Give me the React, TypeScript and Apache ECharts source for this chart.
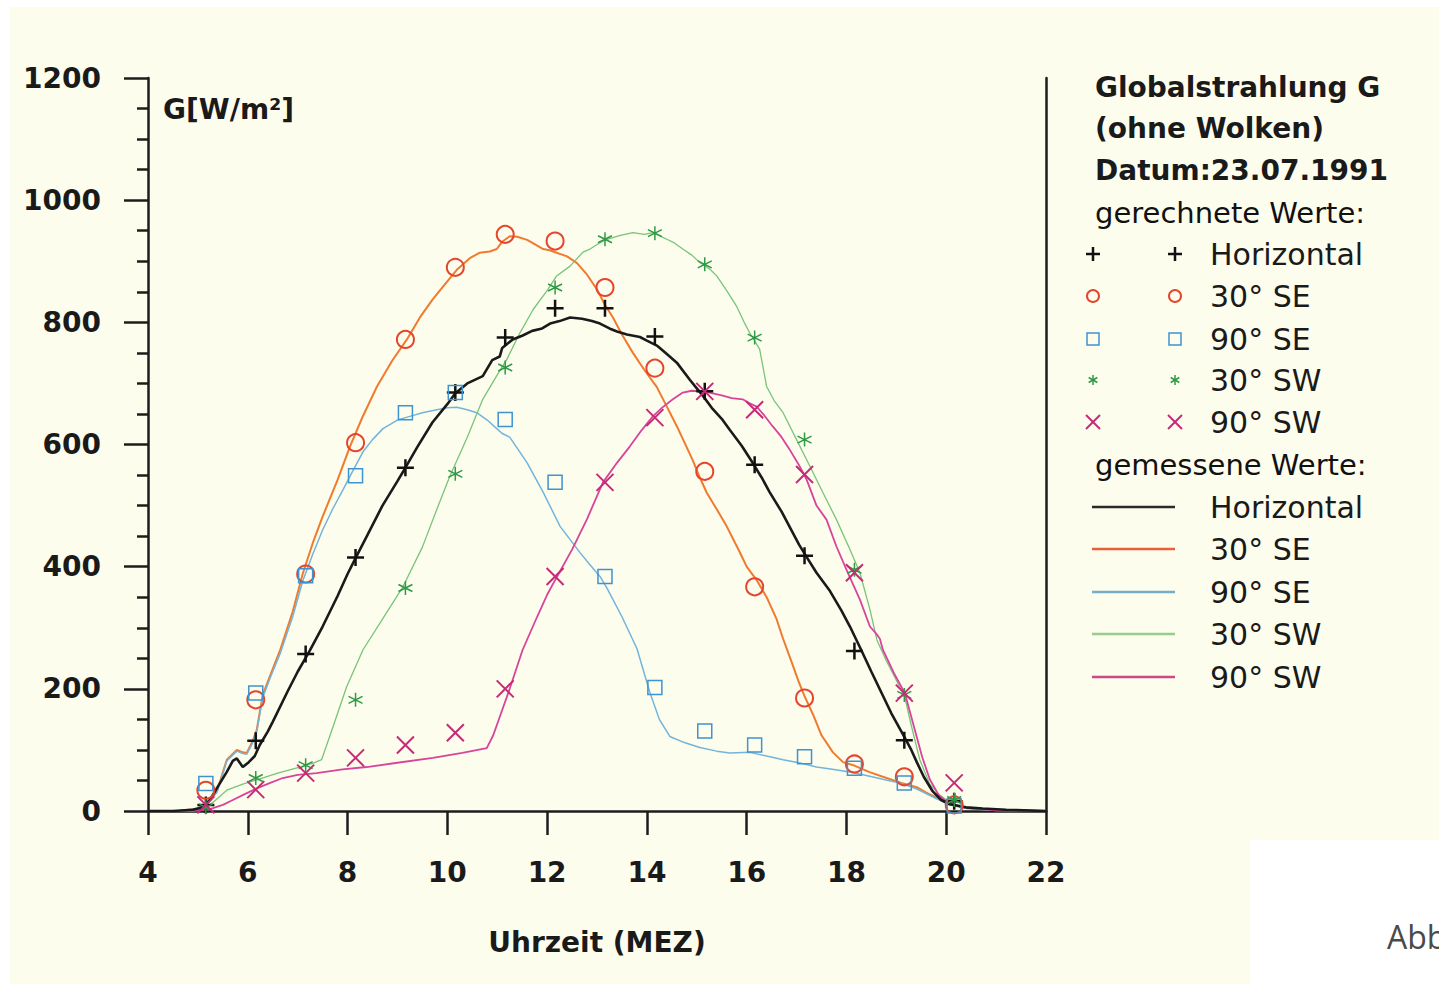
import React, { useEffect, useRef } from "react";
import * as echarts from "echarts";

// ---------- data ----------
const xTicks = [4, 22, 2]; // min, max, interval
const yTicks = [0, 1200, 200];

const calcTimes = [5.16, 6.16, 7.16, 8.16, 9.16, 10.16, 11.16, 12.16, 13.16, 14.16, 15.16, 16.16, 17.16, 18.16, 19.16, 20.16];
const calcHorizontal = [10, 115, 257, 415, 562, 685, 775, 823, 823, 777, 687, 567, 418, 262, 116, 16];
const calcSE30 = [34, 182, 388, 603, 772, 890, 944, 933, 857, 725, 556, 367, 185, 77, 56, 10];
const calcSE90 = [45, 193, 385, 549, 652, 685, 641, 538, 384, 202, 131, 108, 89, 70, 46, 8];
const calcSW30 = [6, 54, 75, 182, 365, 552, 726, 857, 936, 946, 895, 775, 608, 395, 190, 18];
const calcSW90 = [10, 35, 62, 87, 108, 128, 200, 384, 538, 644, 687, 657, 551, 390, 193, 46];

const measHorizontal: number[][] = [
  [4.0, 0], [4.5, 0], [4.9, 2], [5.1, 6], [5.24, 18], [5.4, 40], [5.58, 64], [5.7, 82], [5.78, 86], [5.9, 72],
  [6.02, 80], [6.14, 90], [6.24, 108], [6.4, 130], [6.5, 146], [6.8, 196], [7.0, 228], [7.24, 262], [7.5, 302],
  [7.8, 352], [8.0, 388], [8.16, 414], [8.4, 452], [8.7, 500], [9.0, 540], [9.16, 562], [9.4, 596], [9.7, 636],
  [10.0, 666], [10.16, 684], [10.4, 700], [10.71, 712], [10.9, 738], [11.05, 744], [11.1, 758], [11.31, 772],
  [11.5, 778], [11.7, 786], [11.9, 790], [12.06, 798], [12.25, 802], [12.46, 808], [12.7, 806], [12.9, 802],
  [13.06, 798], [13.25, 790], [13.4, 785], [13.6, 780], [13.86, 776], [14.0, 770], [14.2, 762], [14.4, 748],
  [14.6, 734], [14.86, 706], [15.0, 692], [15.12, 680], [15.3, 660], [15.5, 642], [15.66, 624], [15.9, 598],
  [16.12, 570], [16.3, 546], [16.46, 522], [16.7, 490], [16.92, 456], [17.05, 436], [17.2, 416], [17.4, 390],
  [17.67, 360], [17.9, 328], [18.07, 302], [18.27, 268], [18.5, 228], [18.7, 194], [18.9, 160], [19.13, 126],
  [19.3, 100], [19.41, 80], [19.55, 56], [19.73, 32], [19.9, 18], [20.07, 11], [20.4, 6], [20.73, 4], [21.2, 2], [22, 0],
];
const measSE30: number[][] = [
  [4.0, 0], [4.6, 0], [5.0, 4], [5.2, 14], [5.38, 32], [5.58, 84], [5.78, 100], [5.9, 96], [5.98, 95], [6.1, 115],
  [6.18, 133], [6.3, 190], [6.45, 222], [6.65, 264], [6.9, 326], [7.1, 388], [7.3, 438], [7.5, 482], [7.8, 542],
  [8.05, 597], [8.3, 645], [8.59, 695], [8.9, 738], [9.19, 772], [9.45, 808], [9.71, 838], [9.95, 862], [10.19, 886],
  [10.45, 905], [10.65, 914], [10.85, 916], [10.99, 920], [11.1, 932], [11.25, 941], [11.4, 940], [11.6, 935],
  [11.75, 928], [11.92, 920], [12.05, 918], [12.19, 914], [12.4, 908], [12.6, 897], [12.8, 878], [13.0, 854],
  [13.15, 830], [13.32, 808], [13.5, 780], [13.72, 750], [13.95, 722], [14.2, 694], [14.4, 662], [14.6, 630],
  [14.75, 604], [14.92, 574], [15.05, 548], [15.2, 521], [15.4, 494], [15.6, 466], [15.86, 424], [16.0, 400],
  [16.2, 378], [16.4, 350], [16.6, 314], [16.73, 282], [16.9, 244], [17.05, 210], [17.16, 188], [17.33, 158],
  [17.5, 124], [17.73, 96], [17.93, 80], [18.17, 74], [18.45, 64], [18.73, 56], [19.1, 46], [19.41, 39],
  [19.6, 30], [19.81, 22], [20.07, 12], [20.4, 5], [21.0, 2], [22, 0],
];
const measSE90: number[][] = [
  [4.0, 0], [4.6, 0], [5.0, 4], [5.2, 14], [5.38, 30], [5.58, 82], [5.78, 98], [5.9, 94], [5.98, 93], [6.1, 112],
  [6.18, 130], [6.3, 186], [6.45, 218], [6.65, 258], [6.9, 318], [7.1, 376], [7.3, 420], [7.5, 460], [7.7, 494],
  [7.91, 526], [8.1, 556], [8.31, 588], [8.5, 608], [8.71, 626], [9.0, 640], [9.25, 646], [9.5, 652], [9.79, 657],
  [10.0, 660], [10.19, 661], [10.4, 657], [10.59, 652], [10.8, 640], [10.99, 626], [11.1, 618], [11.25, 612],
  [11.4, 594], [11.6, 570], [11.92, 522], [12.26, 466], [12.66, 423], [12.85, 404], [13.06, 384], [13.2, 365],
  [13.5, 318], [13.8, 266], [14.06, 194], [14.25, 150], [14.46, 122], [14.75, 112], [15.06, 104], [15.4, 98],
  [15.66, 95], [16.06, 96], [16.4, 90], [16.73, 84], [17.1, 78], [17.4, 72], [17.75, 68], [18.07, 64], [18.4, 58],
  [18.73, 52], [19.07, 46], [19.41, 36], [19.81, 20], [20.07, 10], [20.4, 4], [21.0, 1], [22, 0],
];
const measSW30: number[][] = [
  [4.0, 0], [4.8, 0], [5.1, 4], [5.3, 14], [5.58, 34], [5.9, 44], [6.18, 51], [6.6, 62], [7.04, 72], [7.3, 78],
  [7.48, 84], [7.7, 136], [7.98, 203], [8.31, 264], [8.7, 314], [9.11, 367], [9.5, 432], [9.8, 496], [10.05, 548],
  [10.4, 612], [10.71, 674], [11.0, 714], [11.19, 739], [11.45, 782], [11.72, 821], [12.0, 852], [12.19, 876],
  [12.46, 892], [12.72, 915], [12.86, 920], [13.05, 930], [13.2, 936], [13.45, 942], [13.72, 947], [13.95, 944],
  [14.12, 947], [14.25, 942], [14.4, 936], [14.55, 930], [14.72, 920], [14.9, 910], [15.06, 898], [15.25, 888],
  [15.4, 876], [15.6, 852], [15.8, 826], [15.95, 800], [16.06, 783], [16.26, 756], [16.4, 695], [16.55, 672],
  [16.73, 652], [17.0, 608], [17.27, 564], [17.53, 521], [17.8, 477], [18.07, 428], [18.27, 390], [18.47, 330],
  [18.61, 280], [18.8, 246], [19.0, 214], [19.17, 186], [19.3, 140], [19.47, 84], [19.67, 44], [19.87, 26],
  [20.1, 12], [20.5, 4], [21.2, 1], [22, 0],
];
const measSW90: number[][] = [
  [4.0, 0], [4.9, 0], [5.24, 3], [5.5, 10], [5.7, 18], [5.95, 28], [6.18, 37], [6.45, 46], [6.7, 54], [7.0, 59],
  [7.38, 62], [7.9, 68], [8.38, 72], [9.0, 79], [9.71, 87], [10.3, 95], [10.79, 103], [10.92, 124], [11.05, 154],
  [11.25, 200], [11.51, 264], [11.8, 318], [12.0, 354], [12.2, 384], [12.5, 428], [12.8, 478], [13.12, 538],
  [13.4, 570], [13.66, 597], [13.9, 624], [14.12, 646], [14.3, 660], [14.52, 674], [14.72, 685], [14.9, 688],
  [15.12, 687], [15.3, 684], [15.52, 680], [15.7, 676], [15.92, 674], [16.05, 668], [16.2, 662], [16.35, 648],
  [16.52, 630], [16.7, 612], [16.86, 592], [17.05, 566], [17.2, 543], [17.4, 500], [17.6, 477], [17.8, 433],
  [18.0, 395], [18.27, 346], [18.47, 302], [18.6, 290], [18.67, 282], [18.73, 264], [18.95, 226], [19.17, 193],
  [19.37, 133], [19.52, 88], [19.67, 52], [19.85, 26], [19.97, 18], [20.3, 6], [21.0, 1], [22, 0],
];

const seriesNames = ["Horizontal", "30° SE", "90° SE", "30° SW", "90° SW"];
const headerLines = ["Globalstrahlung G", "(ohne Wolken)", "Datum:23.07.1991"];
const calcHeading = "gerechnete Werte:";
const measHeading = "gemessene Werte:";
const yAxisTitle = "G[W/m²]";
const xAxisTitle = "Uhrzeit (MEZ)";

// ---------- styles ----------
const FONT = "DejaVu Sans";
const AXIS = "#1c1c1c";
const lineColors = ["#1a1a1a", "#f07a2e", "#72b4dc", "#78c478", "#d8449a"];
const lineWidths = [2.6, 2, 1.5, 1.3, 1.8];
const markColors = ["#111111", "#e4452c", "#3f93d0", "#2f9a45", "#c72a76"];
const legendLineColors = ["#2a2a2a", "#e8603a", "#74aec8", "#98cc8c", "#c84a86"];

const SYM_PLUS = "path://M0,5L10,5M5,0L5,10";
const SYM_X = "path://M0,0L10,10M0,10L10,0";
const SYM_STAR = "path://M5,0L5,10M0.67,2.5L9.33,7.5M0.67,7.5L9.33,2.5";
const symbols = [SYM_PLUS, "circle", "rect", SYM_STAR, SYM_X];
const symSizes = [17, 17, 14, 14, 17];
const symWidths = [2.5, 2, 1.5, 1.5, 2];

function legendMarker(kind: number, cx: number, cy: number, color: string): any {
  const st = { stroke: color, lineWidth: symWidths[kind], fill: "none" };
  if (kind === 0) {
    return {
      type: "group",
      children: [
        { type: "line", shape: { x1: cx - 7, y1: cy, x2: cx + 7, y2: cy }, style: st },
        { type: "line", shape: { x1: cx, y1: cy - 7, x2: cx, y2: cy + 7 }, style: st },
      ],
    };
  }
  if (kind === 1) return { type: "circle", shape: { cx, cy, r: 6 }, style: st };
  if (kind === 2) return { type: "rect", shape: { x: cx - 6, y: cy - 6, width: 12, height: 12 }, style: st };
  if (kind === 3) {
    return {
      type: "group",
      children: [
        { type: "line", shape: { x1: cx, y1: cy - 5, x2: cx, y2: cy + 5 }, style: st },
        { type: "line", shape: { x1: cx - 4.3, y1: cy - 2.5, x2: cx + 4.3, y2: cy + 2.5 }, style: st },
        { type: "line", shape: { x1: cx - 4.3, y1: cy + 2.5, x2: cx + 4.3, y2: cy - 2.5 }, style: st },
      ],
    };
  }
  return {
    type: "group",
    children: [
      { type: "line", shape: { x1: cx - 7, y1: cy - 7, x2: cx + 7, y2: cy + 7 }, style: st },
      { type: "line", shape: { x1: cx - 7, y1: cy + 7, x2: cx + 7, y2: cy - 7 }, style: st },
    ],
  };
}

function txt(text: string, x: number, y: number, size: number, weight: any, extra: any = {}): any {
  return {
    type: "text",
    x,
    y,
    style: {
      text,
      fill: "#1a1a1a",
      font: `${weight} ${size}px "${FONT}"`,
      textVerticalAlign: "middle",
      textAlign: "left",
      ...extra,
    },
  };
}

export default function App() {
  const ref = useRef<HTMLDivElement>(null);

  useEffect(() => {
    if (!ref.current) return;
    const chart = echarts.init(ref.current, null, { renderer: "svg" });

    const calcSets = [calcHorizontal, calcSE30, calcSE90, calcSW30, calcSW90];
    const measSets = [measHorizontal, measSE30, measSE90, measSW30, measSW90];

    const lineSeries = measSets.map((d, i) => ({
      name: seriesNames[i] + " (gemessen)",
      type: "line",
      data: d,
      showSymbol: false,
      symbol: "none",
      lineStyle: { color: lineColors[i], width: lineWidths[i] },
      z: 2 + (i === 0 ? 1 : 0),
      silent: true,
    }));
    const scatterSeries = calcSets.map((vals, i) => ({
      name: seriesNames[i] + " (gerechnet)",
      type: "scatter",
      data: calcTimes.map((t, k) => [t, vals[k]]),
      symbol: symbols[i],
      symbolSize: symSizes[i],
      itemStyle: {
        color: "rgba(0,0,0,0)",
        borderColor: markColors[i],
        borderWidth: symWidths[i],
        opacity: 1,
      },
      z: 5,
      silent: true,
    }));

    const legendX = 1095;
    const col1 = 1093;
    const col2 = 1175;
    const textX = 1210;
    const headerY = [87, 128, 170];
    const calcHeadY = 213;
    const calcY = [254, 296, 339, 380, 422];
    const measHeadY = 465;
    const measY = [507, 549, 592, 634, 677];

    const graphics: any[] = [
      { type: "rect", z: -10, shape: { x: 10, y: 7, width: 1429, height: 977 }, style: { fill: "#fdfdee" } },
      { type: "rect", z: -9, shape: { x: 1250, y: 840, width: 189, height: 144 }, style: { fill: "#ffffff" } },
      txt(yAxisTitle, 163, 109, 28, "bold"),
      txt("Abb", 1387, 936, 32, "normal", { fill: "#4a4a4a", font: `normal 32px "Open Sans"` }),
    ];
    headerLines.forEach((s, i) => graphics.push(txt(s, legendX, headerY[i], 28, "bold")));
    graphics.push(txt(calcHeading, legendX, calcHeadY, 29, "normal", { fill: "#111" }));
    graphics.push(txt(measHeading, legendX, measHeadY, 29, "normal", { fill: "#111" }));
    seriesNames.forEach((s, i) => {
      graphics.push(legendMarker(i, col1, calcY[i], markColors[i]));
      graphics.push(legendMarker(i, col2, calcY[i], markColors[i]));
      graphics.push(txt(s, textX, calcY[i], 30, "normal"));
      graphics.push({
        type: "line",
        shape: { x1: 1092, y1: measY[i], x2: 1175, y2: measY[i] },
        style: { stroke: legendLineColors[i], lineWidth: 2.5 },
      });
      graphics.push(txt(s, textX, measY[i], 30, "normal"));
    });

    const option: any = {
      animation: false,
      backgroundColor: "#ffffff",
      textStyle: { fontFamily: FONT },
      grid: { left: 148, right: 393, top: 78, bottom: 173, containLabel: false },
      xAxis: {
        type: "value",
        min: xTicks[0],
        max: xTicks[1],
        interval: xTicks[2],
        name: xAxisTitle,
        nameLocation: "middle",
        nameGap: 131,
        nameTextStyle: { fontSize: 28, fontWeight: "bold", color: "#1a1a1a", fontFamily: FONT, verticalAlign: "middle" },
        axisLine: { show: true, onZero: false, lineStyle: { color: AXIS, width: 2.5 } },
        axisTick: { show: true, inside: false, length: 24, lineStyle: { color: AXIS, width: 2.5 } },
        axisLabel: { fontSize: 28, fontWeight: "bold", color: "#1a1a1a", fontFamily: FONT, margin: 47, formatter: (v: number) => String(v) },
        splitLine: { show: false },
      },
      yAxis: [
        {
          type: "value",
          min: yTicks[0],
          max: yTicks[1],
          interval: yTicks[2],
          axisLine: { show: true, onZero: false, lineStyle: { color: AXIS, width: 2.5 } },
          axisTick: { show: true, inside: false, length: 24, lineStyle: { color: AXIS, width: 2.5 } },
          minorTick: { show: true, splitNumber: 4, length: 11, lineStyle: { color: AXIS, width: 2.5 } },
          axisLabel: { fontSize: 28, fontWeight: "bold", color: "#1a1a1a", fontFamily: FONT, margin: 47, formatter: (v: number) => String(v) },
          splitLine: { show: false },
          minorSplitLine: { show: false },
        },
        {
          type: "value",
          position: "right",
          min: yTicks[0],
          max: yTicks[1],
          interval: yTicks[2],
          axisLine: { show: true, onZero: false, lineStyle: { color: AXIS, width: 2.5 } },
          axisTick: { show: false },
          axisLabel: { show: false },
          splitLine: { show: false },
        },
      ],
      graphic: graphics,
      series: [...lineSeries, ...scatterSeries],
    };

    chart.setOption(option);
    return () => chart.dispose();
  }, []);

  return (
    <div
      ref={ref}
      style={{ position: "absolute", left: 0, top: 0, width: 1439, height: 984 }}
    />
  );
}
